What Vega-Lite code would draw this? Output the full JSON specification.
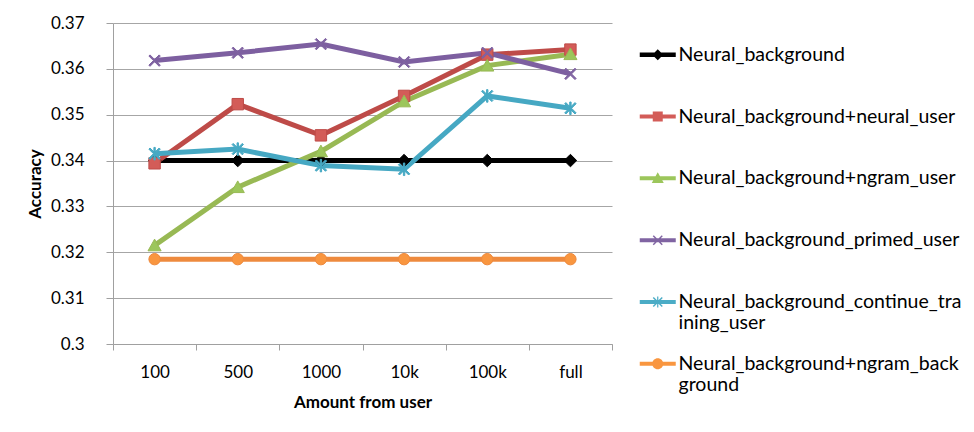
{
  "$schema": "https://vega.github.io/schema/vega-lite/v6.json",
  "width": 499,
  "height": 321,
  "autosize": {"type": "none"},
  "padding": {"left": 113, "top": 23, "right": 362, "bottom": 88},
  "background": "white",
  "config": {"view": {"stroke": null}, "font": "Lato"},
  "data": {"values": [
    {"amount": "100", "series": "Neural_background", "accuracy": 0.3400},
    {"amount": "500", "series": "Neural_background", "accuracy": 0.3400},
    {"amount": "1000", "series": "Neural_background", "accuracy": 0.3400},
    {"amount": "10k", "series": "Neural_background", "accuracy": 0.3400},
    {"amount": "100k", "series": "Neural_background", "accuracy": 0.3400},
    {"amount": "full", "series": "Neural_background", "accuracy": 0.3400},
    {"amount": "100", "series": "Neural_background+neural_user", "accuracy": 0.3394},
    {"amount": "500", "series": "Neural_background+neural_user", "accuracy": 0.3523},
    {"amount": "1000", "series": "Neural_background+neural_user", "accuracy": 0.3455},
    {"amount": "10k", "series": "Neural_background+neural_user", "accuracy": 0.3541},
    {"amount": "100k", "series": "Neural_background+neural_user", "accuracy": 0.3631},
    {"amount": "full", "series": "Neural_background+neural_user", "accuracy": 0.3642},
    {"amount": "100", "series": "Neural_background+ngram_user", "accuracy": 0.3215},
    {"amount": "500", "series": "Neural_background+ngram_user", "accuracy": 0.3342},
    {"amount": "1000", "series": "Neural_background+ngram_user", "accuracy": 0.3420},
    {"amount": "10k", "series": "Neural_background+ngram_user", "accuracy": 0.3529},
    {"amount": "100k", "series": "Neural_background+ngram_user", "accuracy": 0.3607},
    {"amount": "full", "series": "Neural_background+ngram_user", "accuracy": 0.3632},
    {"amount": "100", "series": "Neural_background_primed_user", "accuracy": 0.3618},
    {"amount": "500", "series": "Neural_background_primed_user", "accuracy": 0.3635},
    {"amount": "1000", "series": "Neural_background_primed_user", "accuracy": 0.3654},
    {"amount": "10k", "series": "Neural_background_primed_user", "accuracy": 0.3615},
    {"amount": "100k", "series": "Neural_background_primed_user", "accuracy": 0.3635},
    {"amount": "full", "series": "Neural_background_primed_user", "accuracy": 0.3589},
    {"amount": "100", "series": "Neural_background_continue_training_user", "accuracy": 0.3415},
    {"amount": "500", "series": "Neural_background_continue_training_user", "accuracy": 0.3425},
    {"amount": "1000", "series": "Neural_background_continue_training_user", "accuracy": 0.3389},
    {"amount": "10k", "series": "Neural_background_continue_training_user", "accuracy": 0.3381},
    {"amount": "100k", "series": "Neural_background_continue_training_user", "accuracy": 0.3541},
    {"amount": "full", "series": "Neural_background_continue_training_user", "accuracy": 0.3514},
    {"amount": "100", "series": "Neural_background+ngram_background", "accuracy": 0.3185},
    {"amount": "500", "series": "Neural_background+ngram_background", "accuracy": 0.3185},
    {"amount": "1000", "series": "Neural_background+ngram_background", "accuracy": 0.3185},
    {"amount": "10k", "series": "Neural_background+ngram_background", "accuracy": 0.3185},
    {"amount": "100k", "series": "Neural_background+ngram_background", "accuracy": 0.3185},
    {"amount": "full", "series": "Neural_background+ngram_background", "accuracy": 0.3185}
  ]},
  "encoding": {
    "x": {
      "field": "amount", "type": "ordinal",
      "sort": ["100", "500", "1000", "10k", "100k", "full"],
      "scale": {"type": "band", "paddingInner": 0, "paddingOuter": 0},
      "axis": {
        "title": "Amount from user", "titleFontWeight": "bold", "titleFontSize": 17, "titleColor": "#000",
        "labelAngle": 0, "labelFontSize": 17, "labelColor": "#000",
        "tickBand": "extent", "tickSize": 6, "labelPadding": 14, "titlePadding": 14,
        "domainColor": "#a0a0a0", "tickColor": "#a0a0a0", "grid": false
      }
    },
    "y": {
      "field": "accuracy", "type": "quantitative",
      "scale": {"domain": [0.3, 0.37], "nice": false, "zero": false},
      "axis": {
        "title": "Accuracy", "titleFontWeight": "bold", "titleFontSize": 17, "titleColor": "#000",
        "values": [0.3, 0.31, 0.32, 0.33, 0.34, 0.35, 0.36, 0.37], "format": ".2~f",
        "labelFontSize": 17, "labelColor": "#000",
        "grid": true, "gridColor": "#a6a6a6", "tickSize": 7, "labelPadding": 22, "titlePadding": 6,
        "domainColor": "#a0a0a0", "tickColor": "#a0a0a0"
      }
    }
  },
  "resolve": {"scale": {"shape": "independent"}, "legend": {"color": "independent", "shape": "independent"}},
  "layer": [
    {
      "mark": {"type": "line", "strokeWidth": 5},
      "encoding": {
        "stroke": {
          "field": "series", "type": "nominal",
          "scale": {
            "domain": ["Neural_background+ngram_background", "Neural_background_continue_training_user", "Neural_background_primed_user", "Neural_background+ngram_user", "Neural_background+neural_user", "Neural_background"],
            "range": ["#ee8a3e", "#46a8c3", "#7d5fa0", "#98b954", "#be4b48", "#000000"]
          },
          "legend": null
        }
      }
    },
    {
      "mark": {"type": "point", "filled": true, "opacity": 1, "size": 130, "strokeWidth": 1},
      "encoding": {
        "stroke": {"field": "series", "type": "nominal", "legend": null},
        "color": {
          "field": "series", "type": "nominal",
          "scale": {
            "domain": ["Neural_background", "Neural_background+neural_user", "Neural_background+ngram_user", "Neural_background_primed_user", "Neural_background_continue_training_user", "Neural_background+ngram_background"],
            "range": ["#000000", "#d35c58", "#9cc65b", "#8064a2", "#4bacc6", "#f9963f"]
          },
          "legend": null
        },
        "shape": {
          "field": "series", "type": "nominal",
          "scale": {
            "domain": ["Neural_background", "Neural_background+neural_user", "Neural_background+ngram_user", "Neural_background_primed_user", "Neural_background_continue_training_user", "Neural_background+ngram_background"],
            "range": [
              "M0,-1.1L1.1,0L0,1.1L-1.1,0Z",
              "M-1,-1H1V1H-1Z",
              "M0,-1.1L1.15,0.95L-1.15,0.95Z",
              "M-1,-0.8L-0.8,-1L0,-0.2L0.8,-1L1,-0.8L0.2,0L1,0.8L0.8,1L0,0.2L-0.8,1L-1,0.8L-0.2,0Z",
              "M-1,-0.8L-0.8,-1L0,-0.2L0.8,-1L1,-0.8L0.2,0L1,0.8L0.8,1L0,0.2L-0.8,1L-1,0.8L-0.2,0Z M-0.12,-1.1H0.12V1.1H-0.12Z",
              "M-1,0A1,1 0 1,0 1,0A1,1 0 1,0 -1,0Z"
            ]
          },
          "legend": null
        }
      }
    },
    {
      "transform": [{"filter": "false"}],
      "mark": {"type": "point", "filled": true, "opacity": 1},
      "encoding": {
        "color": {
          "field": "series", "type": "nominal",
          "legend": {
            "title": null, "orient": "none", "legendX": 535, "legendY": 22,
            "labelFontSize": 19.5, "labelLimit": 400, "labelColor": "#000",
            "symbolSize": 100, "labelOffset": 11, "rowPadding": 19.8, "gridAlign": "all",
            "labelExpr": "datum.label == 'Neural_background_continue_training_user' ? ['Neural_background_continue_tra', 'ining_user'] : datum.label == 'Neural_background+ngram_background' ? ['Neural_background+ngram_back', 'ground'] : datum.label"
          }
        },
        "shape": {
          "field": "series", "type": "nominal",
          "scale": {
            "domain": ["Neural_background", "Neural_background+neural_user", "Neural_background+ngram_user", "Neural_background_primed_user", "Neural_background_continue_training_user", "Neural_background+ngram_background"],
            "range": [
              "M-3.6,-0.45H3.6V0.45H-3.6Z M0,-1.1L1.1,0L0,1.1L-1.1,0Z",
              "M-3.6,-0.4H3.6V0.4H-3.6Z M-1,-1H1V1H-1Z",
              "M-3.6,-0.4H3.6V0.4H-3.6Z M0,-1.2L1.2,0.95L-1.2,0.95Z",
              "M-3.6,-0.4H3.6V0.4H-3.6Z M-1,-0.8L-0.8,-1L0,-0.2L0.8,-1L1,-0.8L0.2,0L1,0.8L0.8,1L0,0.2L-0.8,1L-1,0.8L-0.2,0Z",
              "M-3.6,-0.4H3.6V0.4H-3.6Z M-1,-0.8L-0.8,-1L0,-0.2L0.8,-1L1,-0.8L0.2,0L1,0.8L0.8,1L0,0.2L-0.8,1L-1,0.8L-0.2,0Z M-0.12,-1.1H0.12V1.1H-0.12Z",
              "M-3.6,-0.4H3.6V0.4H-3.6Z M-1.1,0A1.1,1.1 0 1,1 1.1,0A1.1,1.1 0 1,1 -1.1,0Z"
            ]
          },
          "legend": {
            "title": null, "orient": "none", "legendX": 535, "legendY": 22,
            "labelFontSize": 19.5, "labelLimit": 400, "labelColor": "#000",
            "symbolSize": 100, "labelOffset": 11, "rowPadding": 19.8, "gridAlign": "all",
            "labelExpr": "datum.label == 'Neural_background_continue_training_user' ? ['Neural_background_continue_tra', 'ining_user'] : datum.label == 'Neural_background+ngram_background' ? ['Neural_background+ngram_back', 'ground'] : datum.label"
          }
        }
      }
    }
  ]
}
